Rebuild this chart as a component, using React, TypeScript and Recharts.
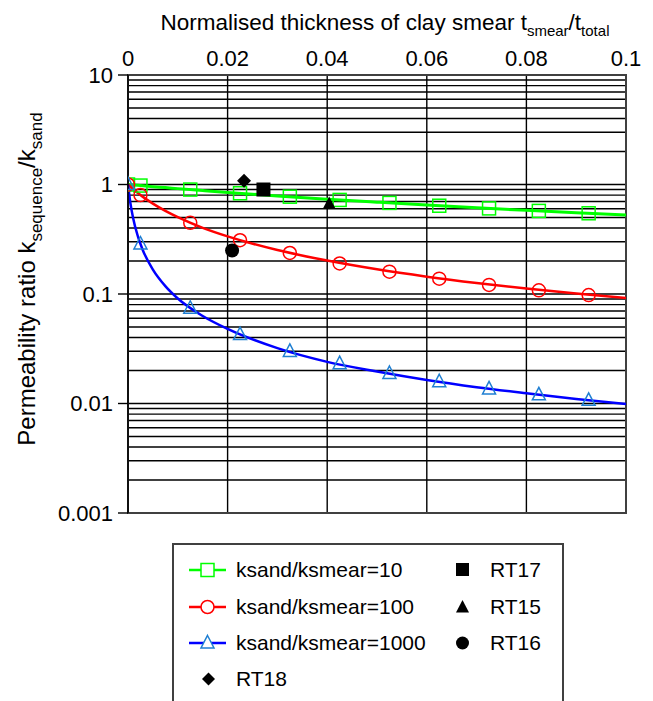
import { ComposedChart, Line, Scatter, XAxis, YAxis, CartesianGrid, ReferenceArea, Label } from 'recharts'

// smooth curves
const curveT = [0, 0.0005, 0.001, 0.002, 0.003, 0.005, 0.0075, 0.01, 0.015, 0.02, 0.03, 0.04, 0.05, 0.06, 0.07, 0.08, 0.09, 0.1]
const curve10 = [1, 0.9955, 0.991, 0.982, 0.973, 0.956, 0.937, 0.917, 0.881, 0.847, 0.787, 0.735, 0.69, 0.649, 0.613, 0.581, 0.552, 0.526]
const curve100 = [1, 0.953, 0.91, 0.835, 0.771, 0.669, 0.574, 0.503, 0.402, 0.336, 0.252, 0.202, 0.168, 0.144, 0.126, 0.112, 0.101, 0.092]
const curve1000 = [1, 0.667, 0.5, 0.334, 0.25, 0.167, 0.118, 0.091, 0.063, 0.048, 0.032, 0.024, 0.0196, 0.0164, 0.0141, 0.0124, 0.011, 0.0099]

// hollow markers along the curves
const markerT = [0, 0.0025, 0.0125, 0.0225, 0.0325, 0.0425, 0.0525, 0.0625, 0.0725, 0.0825, 0.0925]
const marker10 = [1, 0.978, 0.899, 0.832, 0.774, 0.723, 0.679, 0.64, 0.605, 0.574, 0.546]
const marker100 = [1, 0.8, 0.447, 0.31, 0.237, 0.19, 0.16, 0.138, 0.121, 0.108, 0.0977]
const marker1000 = [1, 0.286, 0.0741, 0.0426, 0.0299, 0.0231, 0.0188, 0.0158, 0.0136, 0.012, 0.0107]

// test results
const rt17 = [{ t: 0.0272, k: 0.9 }]
const rt15 = [{ t: 0.0404, k: 0.67 }]
const rt16 = [{ t: 0.0209, k: 0.25 }]
const rt18 = [{ t: 0.0233, k: 1.08 }]

const xTicks = [0, 0.02, 0.04, 0.06, 0.08, 0.1]
const yLabels = [0.001, 0.01, 0.1, 1, 10]
const yTicks = [0.001, 0.01, 0.1, 1]
  .flatMap(d => [1, 2, 3, 4, 5, 6, 7, 8, 9].map(m => +(m * d).toPrecision(3)))
  .concat(10)

const toRows = (ts: number[], ks: number[]) => ts.map((t, i) => ({ t, k: ks[i] }))

const GREEN = '#00ff00'
const RED = '#ff0000'
const BLUE = '#0000ff'
const TRI_BLUE = '#1f7fd2'
const FONT = '"Liberation Sans", Arial, sans-serif'

const hollowSquare = (color: string) => (p: any) =>
  <rect x={p.cx - 6.5} y={p.cy - 6.5} width={13} height={13} fill="none" stroke={color} strokeWidth={1.5} />
const hollowCircle = (color: string) => (p: any) =>
  <circle cx={p.cx} cy={p.cy} r={6.5} fill="none" stroke={color} strokeWidth={1.5} />
const hollowTriangle = (color: string) => (p: any) =>
  <path d={`M${p.cx},${p.cy - 7.5} L${p.cx + 6.5},${p.cy + 5} L${p.cx - 6.5},${p.cy + 5} Z`} fill="none" stroke={color} strokeWidth={1.5} />

const solidSquare = (p: any) => <rect x={p.cx - 7} y={p.cy - 7} width={14} height={14} fill="#000" />
const solidTriangle = (p: any) => <path d={`M${p.cx},${p.cy - 7} L${p.cx + 6.5},${p.cy + 5.5} L${p.cx - 6.5},${p.cy + 5.5} Z`} fill="#000" />
const solidCircle = (p: any) => <circle cx={p.cx} cy={p.cy} r={7} fill="#000" />
const solidDiamond = (p: any) => <path d={`M${p.cx},${p.cy - 7} L${p.cx + 7},${p.cy} L${p.cx},${p.cy + 7} L${p.cx - 7},${p.cy} Z`} fill="#000" />

function YTick(props: any) {
  const { x, y, payload } = props
  if (!yLabels.includes(payload.value)) return <g />
  return (
    <g>
      <line x1={x + 5} x2={x + 15} y1={y} y2={y} stroke="#000" strokeWidth={1.4} />
      <text x={x} y={y} dy="0.36em" textAnchor="end" fontSize={22} fontFamily={FONT} fill="#000">
        {payload.value}
      </text>
    </g>
  )
}

function XTitle(props: any) {
  const vb = props.viewBox
  return (
    <text x={vb.x + vb.width / 2 + 8} y={30} textAnchor="middle" fontSize={22.5} fontFamily={FONT} fill="#000">
      Normalised thickness of clay smear t
      <tspan fontSize={15} dy={6}>smear</tspan>
      <tspan dy={-6}>/t</tspan>
      <tspan fontSize={15} dy={6}>total</tspan>
    </text>
  )
}

function YTitle() {
  return (
    <text transform="translate(35,279) rotate(-90)" textAnchor="middle" fontSize={24} fontFamily={FONT} fill="#000">
      Permeability ratio k
      <tspan fontSize={17} dy={7}>sequence</tspan>
      <tspan dy={-7}>/k</tspan>
      <tspan fontSize={17} dy={7}>sand</tspan>
    </text>
  )
}

function LegendIcon({ color, marker }: { color: string, marker: string }) {
  return (
    <svg width={40} height={20} style={{ position: 'absolute', left: 0, top: -10 }}>
      <line x1={1} x2={38} y1={10} y2={10} stroke={color} strokeWidth={2.5} />
      {marker === 'square' && <rect x={13} y={3.5} width={13} height={13} fill="#fff" stroke={GREEN} strokeWidth={1.5} />}
      {marker === 'circle' && <circle cx={19.5} cy={10} r={6.5} fill="#fff" stroke={RED} strokeWidth={1.5} />}
      {marker === 'triangle' && <path d="M19.5,2.5 L26,15 L13,15 Z" fill="#fff" stroke={TRI_BLUE} strokeWidth={1.5} />}
    </svg>
  )
}

function BlackIcon({ marker }: { marker: string }) {
  return (
    <svg width={20} height={20} style={{ position: 'absolute', left: 0, top: -10 }}>
      {marker === 'square' && <rect x={3} y={3} width={13} height={13} fill="#000" />}
      {marker === 'triangle' && <path d="M9.5,3 L16,15.5 L3,15.5 Z" fill="#000" />}
      {marker === 'circle' && <circle cx={9.5} cy={10} r={6.5} fill="#000" />}
      {marker === 'diamond' && <path d="M9.5,3.5 L16,10 L9.5,16.5 L3,10 Z" fill="#000" />}
    </svg>
  )
}

const lineItems = [
  { label: 'ksand/ksmear=10', color: GREEN, marker: 'square' },
  { label: 'ksand/ksmear=100', color: RED, marker: 'circle' },
  { label: 'ksand/ksmear=1000', color: BLUE, marker: 'triangle' },
]
const pointItems = [
  { label: 'RT17', marker: 'square' },
  { label: 'RT15', marker: 'triangle' },
  { label: 'RT16', marker: 'circle' },
]

function ChartLegend() {
  const rowY = [25, 62, 98, 134]
  const text = { position: 'absolute' as const, fontSize: 21, fontFamily: FONT, lineHeight: '20px', transform: 'translateY(-50%)' }
  return (
    <div style={{ position: 'absolute', left: 172, top: 543, width: 388, height: 200, border: '2px solid #404040', background: '#fff' }}>
      {lineItems.map((it, i) => (
        <div key={it.label} style={{ position: 'absolute', left: 14, top: rowY[i] }}>
          <LegendIcon color={it.color} marker={it.marker} />
          <span style={{ ...text, left: 48, top: 0, whiteSpace: 'nowrap' }}>{it.label}</span>
        </div>
      ))}
      {pointItems.map((it, i) => (
        <div key={it.label} style={{ position: 'absolute', left: 279, top: rowY[i] }}>
          <BlackIcon marker={it.marker} />
          <span style={{ ...text, left: 37, top: 0 }}>{it.label}</span>
        </div>
      ))}
      <div style={{ position: 'absolute', left: 25, top: rowY[3] }}>
        <BlackIcon marker="diamond" />
        <span style={{ ...text, left: 37, top: 0 }}>RT18</span>
      </div>
    </div>
  )
}

export default function App() {
  return (
    <div style={{ position: 'absolute', left: 0, top: 0, width: 653, height: 701, overflow: 'hidden', background: '#fff' }}>
      <ComposedChart width={653} height={701} margin={{ top: 45, right: 27, bottom: 188, left: 68 }}>
        <CartesianGrid stroke="#000" strokeWidth={1.4} />
        <ReferenceArea x1={0} x2={0.1} y1={0.001} y2={10} fill="none" stroke="#404040" strokeWidth={2} />
        <XAxis
          xAxisId={0}
          orientation="top"
          type="number"
          dataKey="t"
          domain={[0, 0.1]}
          ticks={xTicks}
          height={30}
          tickLine={false}
          axisLine={false}
          tickSize={0}
          tickMargin={9}
          tick={{ fontSize: 22, fontFamily: FONT, fill: '#000' }}
          allowDataOverflow
        >
          <Label content={<XTitle />} />
        </XAxis>
        <YAxis
          yAxisId={0}
          scale="log"
          type="number"
          dataKey="k"
          domain={[0.001, 10]}
          ticks={yTicks}
          width={60}
          tickLine={false}
          tickSize={10}
          tickMargin={5}
          axisLine={{ stroke: '#000', strokeWidth: 1.5 }}
          tick={<YTick />}
          interval={0}
          allowDataOverflow
        >
          <Label content={<YTitle />} />
        </YAxis>

        <Line data={toRows(curveT, curve10)} dataKey="k" type="monotone" stroke={GREEN} strokeWidth={3} dot={false} activeDot={false} isAnimationActive={false} />
        <Line data={toRows(curveT, curve100)} dataKey="k" type="monotone" stroke={RED} strokeWidth={2.5} dot={false} activeDot={false} isAnimationActive={false} />
        <Line data={toRows(curveT, curve1000)} dataKey="k" type="monotone" stroke={BLUE} strokeWidth={2.5} dot={false} activeDot={false} isAnimationActive={false} />

        <Scatter data={toRows(markerT, marker10)} dataKey="k" shape={hollowSquare(GREEN)} isAnimationActive={false} />
        <Scatter data={toRows(markerT, marker100)} dataKey="k" shape={hollowCircle(RED)} isAnimationActive={false} />
        <Scatter data={toRows(markerT, marker1000)} dataKey="k" shape={hollowTriangle(TRI_BLUE)} isAnimationActive={false} />

        <Scatter data={rt17} dataKey="k" shape={solidSquare} isAnimationActive={false} />
        <Scatter data={rt15} dataKey="k" shape={solidTriangle} isAnimationActive={false} />
        <Scatter data={rt16} dataKey="k" shape={solidCircle} isAnimationActive={false} />
        <Scatter data={rt18} dataKey="k" shape={solidDiamond} isAnimationActive={false} />
      </ComposedChart>
      <ChartLegend />
    </div>
  )
}
